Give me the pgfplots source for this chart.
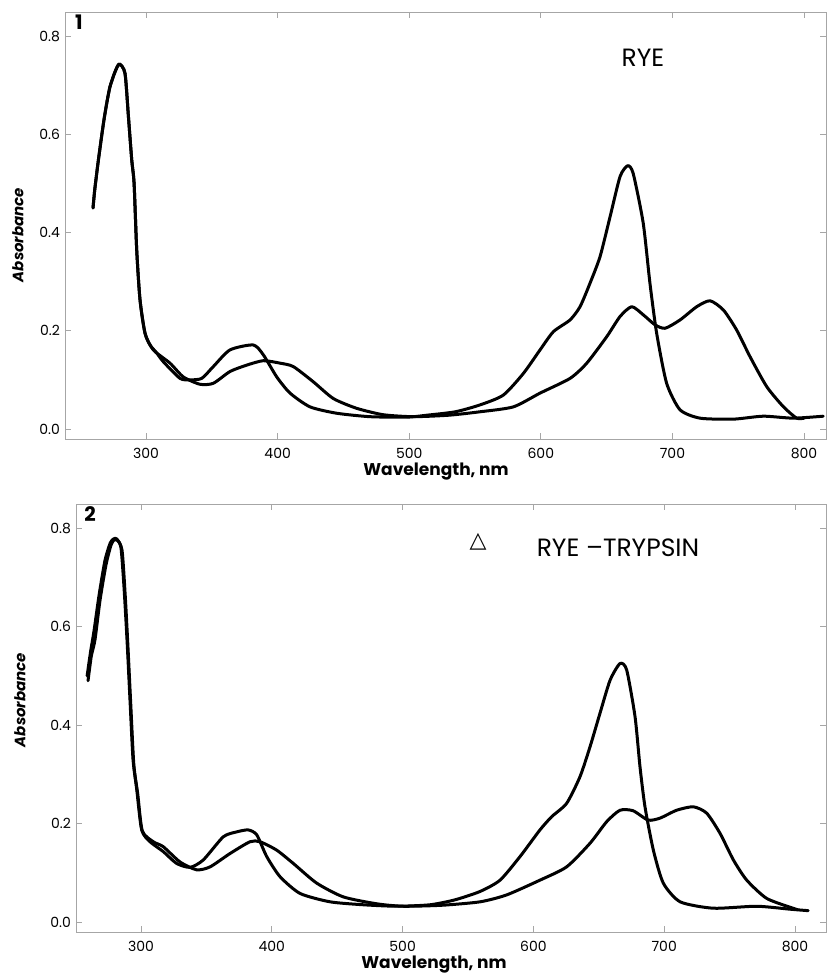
\documentclass[border=0pt]{standalone}
\usepackage{pgfplots}
\pgfplotsset{compat=1.18}
\usepackage{fontspec}
\setmainfont{Poppins}
\newfontfamily\symfont{DejaVu Sans}

\pgfplotstableread{
x y
259.7 0.450
261.0 0.487
263.8 0.548
267.6 0.622
270.1 0.663
272.6 0.697
276.4 0.727
279.7 0.743
284.0 0.724
286.6 0.636
289.1 0.548
290.9 0.500
292.9 0.364
295.4 0.263
299.2 0.195
303.0 0.171
308.0 0.155
313.1 0.137
325.8 0.103
333.4 0.100
342.3 0.103
351.1 0.127
363.8 0.161
381.5 0.171
389.1 0.151
399.3 0.106
409.4 0.073
424.6 0.045
444.9 0.032
470.2 0.025
498.0 0.024
513.3 0.028
535.0 0.035
553.8 0.049
571.5 0.069
586.7 0.113
599.4 0.161
609.5 0.198
622.2 0.222
629.8 0.249
637.4 0.297
645.0 0.351
652.6 0.432
660.2 0.514
666.0 0.536
670.2 0.520
677.8 0.419
682.9 0.297
688.0 0.195
695.6 0.093
705.8 0.039
721.0 0.022
746.3 0.020
769.0 0.026
791.8 0.022
814.6 0.026
}\ryeA

\pgfplotstableread{
x y
259.7 0.450
261.0 0.487
263.8 0.548
267.6 0.622
270.1 0.663
272.6 0.697
276.4 0.727
279.7 0.743
284.0 0.724
286.6 0.636
289.1 0.548
290.9 0.500
292.9 0.364
295.4 0.263
299.2 0.195
305.5 0.161
318.2 0.134
328.3 0.106
341.0 0.091
351.1 0.093
363.8 0.117
376.5 0.130
389.1 0.139
401.8 0.134
411.9 0.127
427.1 0.096
442.3 0.062
460.1 0.042
480.3 0.029
503.1 0.025
530.0 0.028
553.8 0.035
579.1 0.045
599.4 0.073
622.2 0.103
634.9 0.134
650.1 0.188
660.2 0.229
669.1 0.249
678.0 0.232
686.8 0.212
694.4 0.205
705.8 0.222
718.5 0.249
728.6 0.261
738.8 0.242
748.9 0.201
759.0 0.147
771.7 0.086
784.4 0.045
794.4 0.022
800.0 0.022
}\ryeB

\pgfplotstableread{
x y
259.5 0.490
262.0 0.540
264.8 0.573
268.7 0.654
273.2 0.725
277.0 0.765
279.4 0.776
282.0 0.775
284.7 0.760
287.0 0.680
289.3 0.573
291.6 0.450
293.9 0.330
296.7 0.270
300.5 0.187
306.9 0.163
317.0 0.143
327.2 0.119
337.5 0.111
347.6 0.126
362.9 0.173
373.1 0.183
382.0 0.187
388.5 0.177
396.1 0.133
406.3 0.092
421.6 0.058
444.5 0.041
470.0 0.035
495.5 0.032
521.0 0.035
540.0 0.045
559.2 0.062
574.5 0.085
589.8 0.133
605.0 0.187
614.0 0.214
625.4 0.241
635.6 0.295
643.3 0.356
650.9 0.424
658.6 0.491
666.2 0.525
671.3 0.512
677.7 0.417
681.5 0.315
685.3 0.234
691.7 0.146
699.3 0.079
712.2 0.041
737.5 0.028
770.7 0.032
796.2 0.026
810.1 0.023
}\tryA

\pgfplotstableread{
x y
258.8 0.500
261.5 0.550
264.0 0.590
268.0 0.665
272.5 0.735
276.5 0.770
279.0 0.778
281.5 0.778
285.5 0.755
288.0 0.660
290.0 0.560
292.2 0.440
294.5 0.320
297.5 0.260
301.0 0.185
309.4 0.163
317.0 0.153
329.8 0.122
342.5 0.106
352.8 0.112
368.0 0.139
383.3 0.163
391.0 0.163
403.7 0.146
416.4 0.119
434.3 0.079
454.7 0.051
480.2 0.037
500.5 0.032
530.0 0.034
559.2 0.041
579.5 0.055
605.0 0.085
625.4 0.112
643.3 0.160
656.1 0.204
666.2 0.227
676.2 0.226
687.7 0.207
696.8 0.211
709.5 0.227
722.3 0.234
732.5 0.221
742.7 0.180
752.9 0.126
763.1 0.085
778.3 0.048
798.5 0.028
802.0 0.025
}\tryB

\pgfplotsset{
  spec/.style={
    scale only axis,
    anchor=south west,
    axis line style={gray!70,line width=0.4pt},
    tick style={gray!70,line width=0.4pt},
    tick align=inside,
    major tick length=3pt,
    xtick={300,400,500,600,700,800},
    ytick={0,0.2,0.4,0.6,0.8},
    yticklabels={0.0,0.2,0.4,0.6,0.8},
    ticklabel style={font=\fontsize{7}{8}\selectfont},
    /pgf/number format/assume math mode=true,
    xticklabel style={yshift=-1pt},
    yticklabel style={xshift=1pt},
    clip=true,
  },
  curve/.style={black,line width=1.5pt,line join=round,line cap=round,smooth,tension=0.4},
}

\begin{document}
\begin{tikzpicture}
\useasboundingbox (0,0) rectangle (413.5pt,489pt);

\begin{axis}[spec,
  at={(32.5pt,269.5pt)}, width=380.5pt, height=213.5pt,
  xmin=238.4, xmax=816.7, ymin=-0.0204, ymax=0.849]
\addplot[curve] table[x=x,y=y] {\ryeA};
\addplot[curve] table[x=x,y=y] {\ryeB};
\end{axis}

\begin{axis}[spec,
  at={(38pt,23pt)}, width=375pt, height=214pt,
  xmin=250.3, xmax=823.7, ymin=-0.0203, ymax=0.849]
\addplot[curve] table[x=x,y=y] {\tryA};
\addplot[curve] table[x=x,y=y] {\tryB};
\end{axis}

\node[font=\fontsize{8.5}{10}\selectfont\bfseries] at (218pt,253pt) {Wavelength, nm};
\node[font=\fontsize{8.5}{10}\selectfont\bfseries] at (217pt,6.5pt) {Wavelength, nm};
\node[rotate=90,font=\fontsize{7.5}{9}\selectfont\bfseries\itshape] at (9pt,371.5pt) {Absorbance};
\node[rotate=90,font=\fontsize{7.5}{9}\selectfont\bfseries\itshape] at (10pt,139pt) {Absorbance};
\node[font=\fontsize{10}{12}\selectfont\bfseries] at (39.5pt,478pt) {1};
\node[font=\fontsize{10}{12}\selectfont\bfseries] at (45pt,232pt) {2};
\node[font=\fontsize{12.5}{14}\selectfont] at (321.5pt,460pt) {RYE};
\node[font=\fontsize{12.5}{14}\selectfont] at (309pt,215pt) {RYE --TRYPSIN};
\node[font=\fontsize{11}{12}\selectfont\symfont] at (239pt,218pt) {△};
\end{tikzpicture}
\end{document}
